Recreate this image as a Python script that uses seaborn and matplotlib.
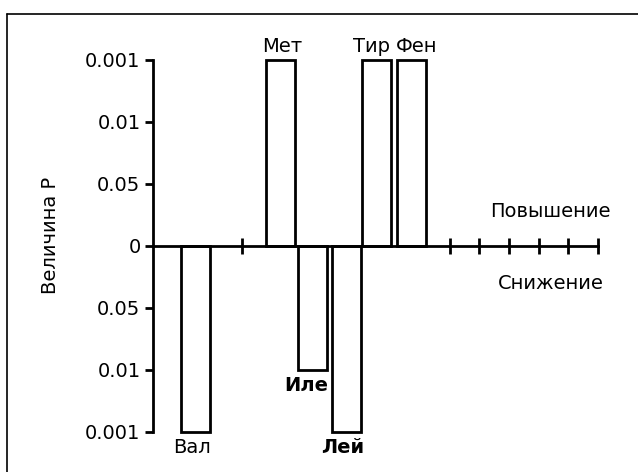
import matplotlib
matplotlib.use("Agg")
import matplotlib.pyplot as plt
from matplotlib.lines import Line2D
import seaborn as sns
import pandas as pd

# ---- data ----
amino_acids = ["Вал", "Мет", "Иле", "Лей", "Тир", "Фен"]
x_slot = [1.42, 4.30, 5.39, 6.52, 7.55, 8.70]   # bar centres along the x axis (slot units)
p_level = [-3, 3, -2, -3, 3, 3]                 # +: повышение, -: снижение
ytick_values = [3, 2, 1, 0, -1, -2, -3]
ytick_labels = ["0.001", "0.01", "0.05", "0", "0.05", "0.01", "0.001"]
xtick_slots = [3, 10, 11, 12, 13, 14, 15]
n_slots = 15

# label styling
bold_label = [False, False, True, True, False, False]
label_dx = [-2, 1, -5, -3, -4, 4]   # points

sns.set_style("white")
plt.rcParams["font.family"] = ["DejaVu Sans"]
plt.rcParams["text.color"] = "black"
plt.rcParams["axes.labelcolor"] = "black"
plt.rcParams["xtick.color"] = "black"
plt.rcParams["ytick.color"] = "black"

df = pd.DataFrame({"aa": amino_acids, "x": x_slot, "p": p_level})

fig = plt.figure(figsize=(6.38, 4.72), dpi=100)
ax = fig.add_axes([153 / 638, 0.0782, (598 - 153) / 638, 0.8795 - 0.0782])

sns.barplot(data=df, x="x", y="p", native_scale=True, width=0.95,
            color="white", edgecolor="black", linewidth=2, saturation=1,
            errorbar=None, ax=ax, zorder=3)

ax.set_xlim(0, n_slots)
ax.set_ylim(-3.05, 3.05)
ax.set_xlabel("")
ax.set_ylabel("")

for s in ["top", "right"]:
    ax.spines[s].set_visible(False)
ax.spines["bottom"].set_position(("data", 0))
ax.spines["left"].set_bounds(-3, 3)
for s in ["left", "bottom"]:
    ax.spines[s].set_linewidth(2)
    ax.spines[s].set_color("black")
    ax.spines[s].set_zorder(4)

ax.set_yticks(ytick_values)
ax.set_yticklabels(ytick_labels, fontsize=14, color="black")
ax.tick_params(axis="y", left=True, direction="out", length=6, width=2, pad=3,
               colors="black", labelcolor="black")
ax.set_xticks(xtick_slots)
ax.set_xticklabels([])
ax.tick_params(axis="x", bottom=True, direction="inout", length=11, width=2, colors="black")

for name, x, p, b, dx in zip(df["aa"], df["x"], df["p"], bold_label, label_dx):
    if p > 0:
        ax.annotate(name, (x, p), xytext=(dx, 3), textcoords="offset points",
                    ha="center", va="bottom", fontsize=14, color="black",
                    fontweight="bold" if b else "normal")
    else:
        ax.annotate(name, (x, p), xytext=(dx, -4), textcoords="offset points",
                    ha="center", va="top", fontsize=14, color="black",
                    fontweight="bold" if b else "normal")

ax.text(13.4, 0.55, "Повышение", ha="center", va="center", fontsize=14, color="black")
ax.text(13.4, -0.6, "Снижение", ha="center", va="center", fontsize=14, color="black")

fig.text(50 / 638, (472 - 235) / 472, "Величина Р", rotation=90,
         ha="center", va="center", fontsize=14, color="black")

# outer frame (cropped at right and bottom)
fy = (472 - 13.5) / 472
fx = 7 / 638
fig.add_artist(Line2D([fx, 1.0], [fy, fy], color="black", lw=1.2, transform=fig.transFigure))
fig.add_artist(Line2D([fx, fx], [0.0, fy], color="black", lw=1.2, transform=fig.transFigure))

fig.savefig("out.png", dpi=100)
